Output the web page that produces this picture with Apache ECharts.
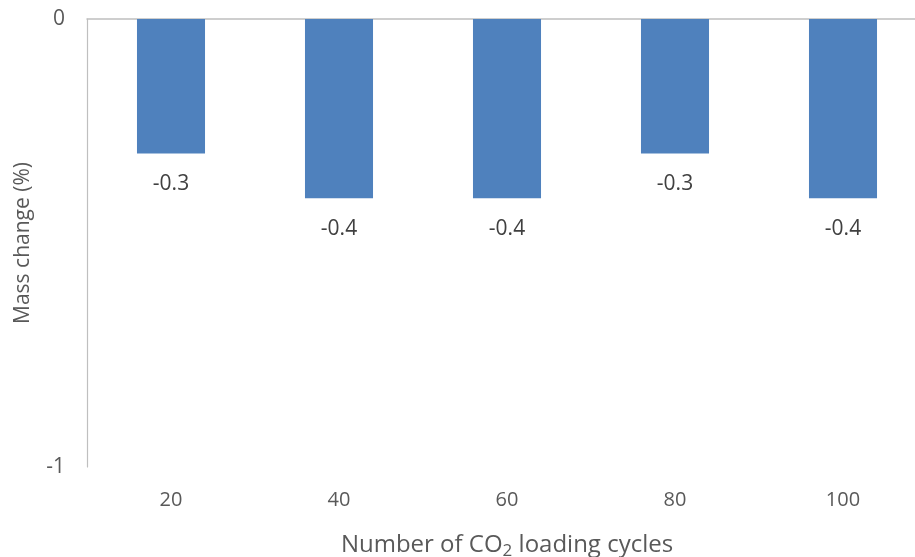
<!DOCTYPE html>
<html>
<head>
<meta charset="utf-8">
<script src="https://cdn.jsdelivr.net/npm/echarts@6/dist/echarts.min.js"></script>
<style>
  html, body { margin: 0; padding: 0; background: #ffffff; overflow: hidden; }
  #chart { width: 927px; height: 557px; }
</style>
</head>
<body>
<div id="chart"></div>
<script>
// Loading cycles and the mass change measured after each
const cycles = ['20', '40', '60', '80', '100'];
const massChange = [-0.3, -0.4, -0.4, -0.3, -0.4];
const yMin = -1;
const yMax = 0;

const textColor = '#595959';
const axisColor = '#bfbfbf';
const fontFamily = 'Open Sans, Liberation Sans, sans-serif';

const chart = echarts.init(document.getElementById('chart'), null, { renderer: 'canvas' });

chart.setOption({
  animation: false,
  backgroundColor: '#ffffff',
  grid: { left: 87, right: 0, top: 19, height: 448, containLabel: false, outerBoundsMode: 'none' },
  xAxis: [
    {
      type: 'category',
      data: cycles,
      position: 'bottom',
      axisLine: { show: false, onZero: false },
      axisTick: { show: false },
      axisLabel: { color: textColor, fontSize: 20, fontFamily: fontFamily, margin: 23 },
      name: 'Number of CO{sub|2} loading cycles',
      nameLocation: 'middle',
      nameGap: 64,
      nameTextStyle: {
        color: textColor, fontSize: 24, fontFamily: fontFamily,
        rich: { sub: { fontSize: 17, verticalAlign: 'bottom', padding: [12, 0, 0, 0], color: textColor, fontFamily: fontFamily } }
      }
    },
    {
      type: 'category',
      data: cycles,
      position: 'top',
      axisLine: { show: true, onZero: false, lineStyle: { color: axisColor, width: 1.5 } },
      axisTick: { show: false },
      axisLabel: { show: false }
    }
  ],
  yAxis: {
    type: 'value',
    min: yMin,
    max: yMax,
    interval: 1,
    axisLine: { show: true, lineStyle: { color: axisColor, width: 1.2 } },
    axisTick: { show: false },
    splitLine: { show: false },
    axisLabel: { color: textColor, fontSize: 21, fontFamily: fontFamily, margin: 22 },
    name: 'Mass change (%)',
    nameLocation: 'middle',
    nameGap: 53,
    nameRotate: 90,
    nameTextStyle: { color: textColor, fontSize: 21, fontFamily: fontFamily }
  },
  series: [
    {
      type: 'bar',
      data: massChange,
      xAxisIndex: 0,
      barWidth: '40.5%',
      itemStyle: { color: '#4f81bd' },
      label: {
        show: true,
        position: 'bottom',
        distance: 20,
        color: '#404040',
        fontSize: 21,
        fontFamily: fontFamily,
        formatter: function (p) { return p.value.toFixed(1); }
      }
    }
  ]
});
</script>
</body>
</html>
